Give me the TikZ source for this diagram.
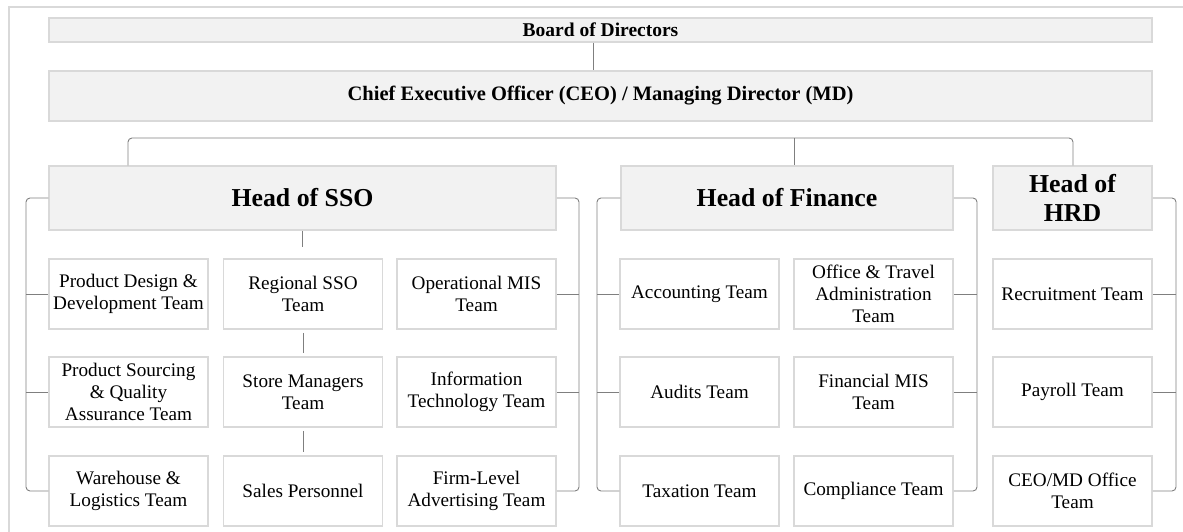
\documentclass[tikz,border=0pt]{standalone}
\usepackage{fontspec}
\setmainfont{Liberation Serif}
\definecolor{boxline}{HTML}{D9D9D9}
\definecolor{boxfill}{HTML}{F2F2F2}
\definecolor{connc}{HTML}{7F7F7F}
\tikzset{
  headbox/.style={draw=boxline, fill=boxfill, line width=1.5pt, inner sep=0pt, align=center},
  teambox/.style={draw=boxline, fill=white, line width=1.5pt, inner sep=0pt, align=center,
     minimum width=159pt, minimum height=70pt, font=\fontsize{19.2}{22.3}\selectfont},
  headfont/.style={font=\fontsize{25.8}{29}\selectfont\bfseries},
  conn/.style={draw=connc, line width=0.9pt},
  bracket/.style={conn, rounded corners=4pt},
  framel/.style={draw=boxline, line width=1.5pt}
}
\begin{document}
\begin{tikzpicture}[x=1pt,y=-1pt]
\useasboundingbox (0,0) rectangle (1183,532);
% outer frame
\draw[framel] (9,532) -- (9,7) -- (1183,7);

% top levels
\node[headbox, minimum width=1103pt, minimum height=24pt, font=\fontsize{19.5}{22}\selectfont\bfseries] (board) at (600.5,30) {Board of Directors};
\node[headbox, minimum width=1103pt, minimum height=50pt, font=\fontsize{20.5}{24}\selectfont\bfseries] (ceo) at (600.5,96) {Chief Executive Officer (CEO) / Managing Director (MD)};

% heads
\node[headbox, headfont, minimum width=507pt, minimum height=64pt] (sso) at (302.5,198) {Head of SSO};
\node[headbox, headfont, minimum width=332pt, minimum height=64pt] (fin) at (787,198) {Head of Finance};
\node[headbox, headfont, minimum width=159pt, minimum height=64pt] (hrd) at (1072.5,198) {Head of\\HRD};

% SSO teams
\node[teambox] (pd)  at (128.5,294) {Product Design \&\\Development Team};
\node[teambox] (ps)  at (128.5,392) {Product Sourcing\\\& Quality\\Assurance Team};
\node[teambox] (wh)  at (128.5,491) {Warehouse \&\\Logistics Team};
\node[teambox] (reg) at (303,294) {Regional SSO\\Team};
\node[teambox] (sto) at (303,392) {Store Managers\\Team};
\node[teambox] (sal) at (303,491) {Sales Personnel};
\node[teambox] (omis) at (476.5,294) {Operational MIS\\Team};
\node[teambox] (it)   at (476.5,392) {Information\\Technology Team};
\node[teambox] (adv)  at (476.5,491) {Firm-Level\\Advertising Team};

% Finance teams
\node[teambox] (acc) at (699.5,294) {Accounting Team};
\node[teambox] (aud) at (699.5,392) {Audits Team};
\node[teambox] (tax) at (699.5,491) {Taxation Team};
\node[teambox] (off) at (873.5,294) {Office \& Travel\\Administration\\Team};
\node[teambox] (fmis) at (873.5,392) {Financial MIS\\Team};
\node[teambox] (comp) at (873.5,491) {Compliance Team};

% HRD teams
\node[teambox] (rec) at (1072.5,294) {Recruitment Team};
\node[teambox] (pay) at (1072.5,392) {Payroll Team};
\node[teambox] (ceoff) at (1072.5,491) {CEO/MD Office\\Team};

% coordinates for connectors
\coordinate (bc) at (593,0);
\coordinate (busL) at (128,138);
\coordinate (busR) at (1073,138);
\coordinate (finDrop) at (794,138);
\coordinate (sL) at (26,0);
\coordinate (sR) at (579,0);
\coordinate (fL) at (597,0);
\coordinate (fR) at (977,0);
\coordinate (hR) at (1176,0);

% board to CEO
\draw[conn] (board.south -| bc) -- (ceo.north -| bc);

% bus to heads
\draw[bracket] (sso.north -| busL) -- (busL) -- (busR) -- (hrd.north -| busR);
\draw[conn] (finDrop) -- (fin.north -| finDrop);

% SSO middle chain
\draw[conn, shorten >=11pt] (sso.south) -- (sso.south |- reg.north);
\draw[conn, shorten <=3pt, shorten >=3pt] (reg.south) -- (sto.north);
\draw[conn, shorten <=3pt, shorten >=3pt] (sto.south) -- (sal.north);

% SSO left bracket
\draw[bracket] (sso.west) -- (sso.west -| sL) -- (wh.west -| sL) -- (wh.west);
\draw[conn] (pd.west -| sL) -- (pd.west);
\draw[conn] (ps.west -| sL) -- (ps.west);
% SSO right bracket
\draw[bracket] (sso.east) -- (sso.east -| sR) -- (adv.east -| sR) -- (adv.east);
\draw[conn] (omis.east) -- (omis.east -| sR);
\draw[conn] (it.east) -- (it.east -| sR);

% Finance left bracket
\draw[bracket] (fin.west) -- (fin.west -| fL) -- (tax.west -| fL) -- (tax.west);
\draw[conn] (acc.west -| fL) -- (acc.west);
\draw[conn] (aud.west -| fL) -- (aud.west);
% Finance right bracket
\draw[bracket] (fin.east) -- (fin.east -| fR) -- (comp.east -| fR) -- (comp.east);
\draw[conn] (off.east) -- (off.east -| fR);
\draw[conn] (fmis.east) -- (fmis.east -| fR);

% HRD right bracket
\draw[bracket] (hrd.east) -- (hrd.east -| hR) -- (ceoff.east -| hR) -- (ceoff.east);
\draw[conn] (rec.east) -- (rec.east -| hR);
\draw[conn] (pay.east) -- (pay.east -| hR);
\end{tikzpicture}
\end{document}
